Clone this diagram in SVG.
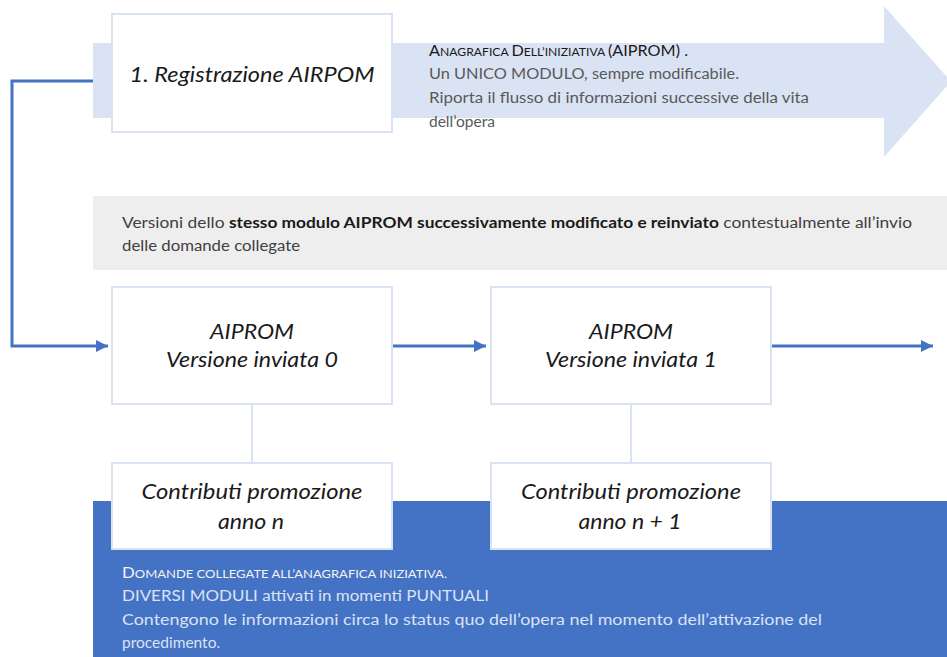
<svg xmlns="http://www.w3.org/2000/svg" width="947" height="657" viewBox="0 0 947 657">
<style>
.box{fill:#ffffff;stroke:#dae3f3;stroke-width:2}
.lbl{font-family:Lato,"Open Sans",sans-serif;font-style:italic;font-size:21px;fill:#1a1a1a;text-anchor:middle}
.body{font-family:Lato,"Open Sans",sans-serif;font-size:15.5px}
.conn{fill:none;stroke:#4472c4;stroke-width:3}
.tie{fill:none;stroke:#dae3f3;stroke-width:2}
</style>
<defs>
<marker id="ah" markerWidth="4" markerHeight="4" refX="4" refY="2" orient="auto" markerUnits="strokeWidth">
<path d="M0,0 L4,2 L0,4 Z" fill="#4472c4"/>
</marker>
</defs>
<rect width="947" height="657" fill="#ffffff"/>

<g id="band-anagrafica">
<polygon points="93,43 884,43 884,6 951,81.5 884,157 884,118 93,118" fill="#dae3f3"/>
<text class="body" x="429" y="56" fill="#1a1a1a" textLength="259" lengthAdjust="spacingAndGlyphs"><tspan font-size="16">A</tspan><tspan font-size="12">NAGRAFICA </tspan><tspan font-size="16">D</tspan><tspan font-size="12">ELL’INIZIATIVA </tspan><tspan font-size="16">(AIPROM) .</tspan></text>
<text class="body" x="429" y="79" fill="#595959" textLength="310" lengthAdjust="spacingAndGlyphs">Un UNICO MODULO, sempre modificabile.</text>
<text class="body" x="429" y="103" fill="#595959" textLength="380" lengthAdjust="spacingAndGlyphs">Riporta il flusso di informazioni successive della vita</text>
<text class="body" x="429" y="127" fill="#595959">dell’opera</text>
</g>

<g id="band-versioni">
<rect x="93" y="196" width="854" height="74" fill="#eeeeee"/>
<text class="body" x="122" y="228" fill="#404040" textLength="790" lengthAdjust="spacingAndGlyphs">Versioni dello <tspan font-weight="bold" fill="#1a1a1a">stesso modulo AIPROM successivamente modificato e reinviato</tspan> contestualmente all’invio</text>
<text class="body" x="122" y="251" fill="#404040" textLength="178" lengthAdjust="spacingAndGlyphs">delle domande collegate</text>
</g>

<g id="band-domande">
<rect x="93" y="501" width="854" height="156" fill="#4472c4"/>
<text class="body" x="122" y="578" fill="#f2f2f2" textLength="325" lengthAdjust="spacingAndGlyphs"><tspan font-size="15.5">D</tspan><tspan font-size="12">OMANDE COLLEGATE ALL’ANAGRAFICA INIZIATIVA.</tspan></text>
<text class="body" x="122" y="601" fill="#dae3f3" textLength="367" lengthAdjust="spacingAndGlyphs">DIVERSI MODULI attivati in momenti PUNTUALI</text>
<text class="body" x="122" y="625" fill="#dae3f3" textLength="700" lengthAdjust="spacingAndGlyphs">Contengono le informazioni circa lo status quo dell’opera nel momento dell’attivazione del</text>
<text class="body" x="122" y="648" fill="#dae3f3">procedimento.</text>
</g>

<g id="connectors">
<polyline class="conn" points="93,81 12,81 12,346 108,346" marker-end="url(#ah)"/>
<line class="conn" x1="392" y1="346" x2="486" y2="346" marker-end="url(#ah)"/>
<line class="conn" x1="771" y1="346" x2="933" y2="346" marker-end="url(#ah)"/>
<line class="tie" x1="252" y1="404" x2="252" y2="463"/>
<line class="tie" x1="631" y1="404" x2="631" y2="463"/>
</g>

<g id="node-registrazione">
<rect class="box" x="112" y="14" width="280" height="118"/>
<text class="lbl" x="252" y="82" font-size="22" textLength="245" lengthAdjust="spacingAndGlyphs">1. Registrazione AIRPOM</text>
</g>

<g id="node-versione0">
<rect class="box" x="112" y="287" width="280" height="117"/>
<text class="lbl" x="252" y="339" textLength="84" lengthAdjust="spacingAndGlyphs">AIPROM</text>
<text class="lbl" x="252" y="367" textLength="172" lengthAdjust="spacingAndGlyphs">Versione inviata 0</text>
</g>

<g id="node-versione1">
<rect class="box" x="491" y="287" width="280" height="117"/>
<text class="lbl" x="631" y="339" textLength="84" lengthAdjust="spacingAndGlyphs">AIPROM</text>
<text class="lbl" x="631" y="367" textLength="172" lengthAdjust="spacingAndGlyphs">Versione inviata 1</text>
</g>

<g id="node-contributi-n">
<rect class="box" x="112" y="463" width="280" height="86"/>
<text class="lbl" x="252" y="499" textLength="221" lengthAdjust="spacingAndGlyphs">Contributi promozione</text>
<text class="lbl" x="251" y="529" textLength="66" lengthAdjust="spacingAndGlyphs">anno n</text>
</g>

<g id="node-contributi-n1">
<rect class="box" x="491" y="463" width="280" height="86"/>
<text class="lbl" x="631" y="499" textLength="220" lengthAdjust="spacingAndGlyphs">Contributi promozione</text>
<text class="lbl" x="630" y="529" textLength="103" lengthAdjust="spacingAndGlyphs">anno n + 1</text>
</g>
</svg>
